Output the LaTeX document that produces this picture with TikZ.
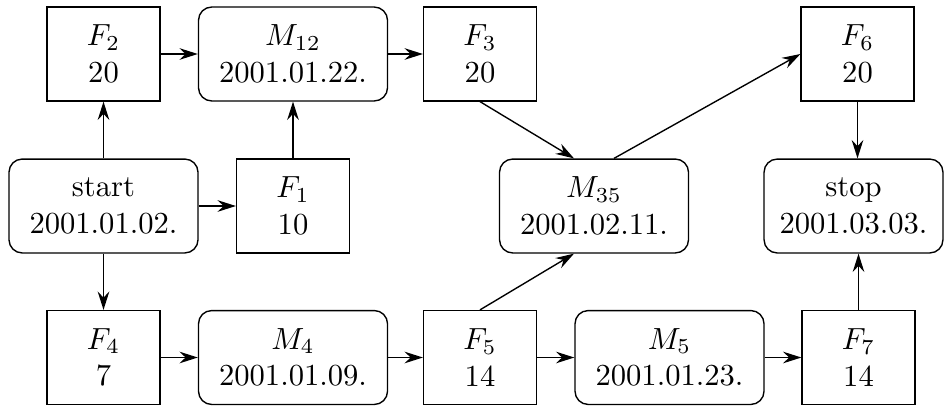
\documentclass[tikz,border=0pt]{standalone}
\usepackage{tikz}
\usetikzlibrary{arrows.meta,calc}

\begin{document}
\begin{tikzpicture}[x=0.327pt,y=-0.327pt,line width=0.45pt,
		task/.style={draw,align=center,minimum width=36.9pt,minimum height=30.7pt,inner sep=1pt},
		milestone/.style={task,rounded corners=4.3pt,minimum width=61.8pt},
		>={Stealth[length=6pt,width=3.8pt,inset=2pt]}
		]
		\useasboundingbox (0,0) rectangle (944,405);
		% top row
		\node[task] (F2) at (103.5,54) {$F_2$\\20};
		\node[milestone] (M12) at (293,54) {$M_{12}$\\2001.01.22.};
		\node[task] (F3) at (480,54) {$F_3$\\20};
		\node[task] (F6) at (857.5,54) {$F_6$\\20};
		% middle row
		\node[milestone] (start) at (103.5,206) {start\\2001.01.02.};
		\node[task] (F1) at (293,206) {$F_1$\\10};
		\node[milestone] (M35) at (594,206) {$M_{35}$\\2001.02.11.};
		\node[milestone,minimum width=58.5pt] (stop) at (853.5,206) {stop\\2001.03.03.};
		% bottom row
		\node[task] (F4) at (103.5,357.5) {$F_4$\\7};
		\node[milestone] (M4) at (293,357.5) {$M_4$\\2001.01.09.};
		\node[task] (F5) at (480,357.5) {$F_5$\\14};
		\node[milestone] (M5) at (669.5,357.5) {$M_5$\\2001.01.23.};
		\node[task] (F7) at (858.5,357.5) {$F_7$\\14};
		% connections
		\draw[->] (start) -- (F2);
		\draw[->] (start) -- (F1);
		\draw[->] (start) -- (F4);
		\draw[->] (F2) -- (M12);
		\draw[->] (F1) -- (M12);
		\draw[->] (M12) -- (F3);
		\draw[->] (F3.south) -- ($(M35.north)+(-20,0)$);
		\draw[->] ($(M35.north)+(20,0)$) -- (F6.west);
		\draw[->] (F5.north) -- ($(M35.south)+(-20,0)$);
		\draw[->] (F6.south) -- (F6.south |- stop.north);
		\draw[->] (F7.north) -- (F7.north |- stop.south);
		\draw[->] (F4) -- (M4);
		\draw[->] (M4) -- (F5);
		\draw[->] (F5) -- (M5);
		\draw[->] (M5) -- (F7);
\end{tikzpicture}
\end{document}
